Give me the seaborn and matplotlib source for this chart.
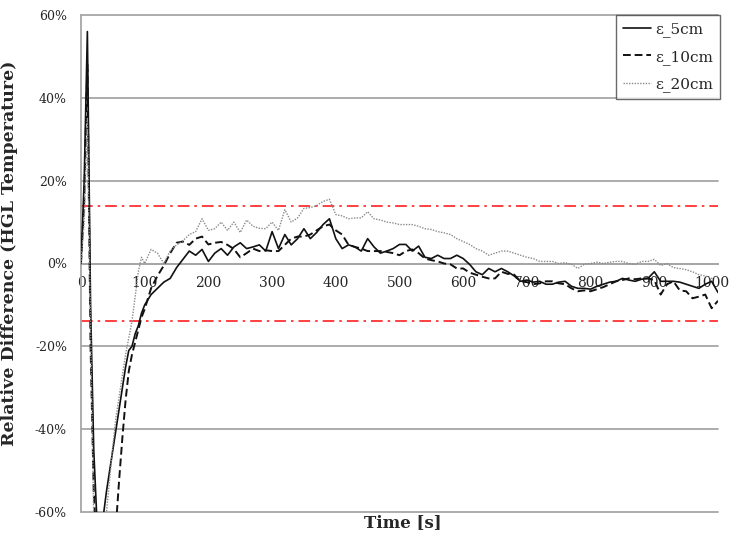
import numpy as np
import pandas as pd
import matplotlib
matplotlib.use("Agg")
import matplotlib.pyplot as plt
import matplotlib.transforms as mtransforms
import seaborn as sns

time_s = [0, 5, 10, 15, 20, 25, 30, 35, 40, 45, 50, 55, 60, 65, 70, 75, 80, 85, 90, 95, 100,
          110, 120, 130, 140, 150, 160, 170, 180, 190, 200, 210, 220, 230, 240, 250, 260, 270, 280, 290,
          300, 310, 320, 330, 340, 350, 360, 370, 380, 390, 400, 410, 420, 430, 440, 450, 460, 470, 480, 490,
          500, 510, 520, 530, 540, 550, 560, 570, 580, 590, 600, 610, 620, 630, 640, 650, 660, 670, 680, 690,
          700, 710, 720, 730, 740, 750, 760, 770, 780, 790, 800, 810, 820, 830, 840, 850, 860, 870, 880, 890,
          900, 910, 920, 930, 940, 950, 960, 970, 980, 990, 1000]

eps_5cm = [0, 20, 56, -10, -45, -62, -63, -61, -55, -50, -45, -40, -35, -30, -25, -21, -20, -17, -15, -12, -10,
           -7.5, -6, -4.5, -3.6, -1, 1, 3, 2, 3.4, 0.5, 2.5, 3.6, 2, 4, 5, 3.6, 4, 4.5, 3,
           7.7, 3.6, 7, 4.5, 6, 8.4, 6, 7.5, 9.4, 10.8, 6, 3.6, 4.5, 4, 3, 6, 4, 2.5, 3, 3.6,
           4.6, 4.6, 3, 4.2, 1.5, 1.2, 2, 1.2, 1.2, 2, 1.2, -0.2, -2, -2.7, -1.2, -2, -1.2, -2, -3, -4.3,
           -4, -4.5, -4.3, -5, -5, -4.5, -4.3, -5.5, -6, -6, -6.2, -5.5, -5, -4.5, -4.3, -3.6, -4, -4.3, -3.8, -3.6,
           -2, -4.3, -4.3, -4.3, -4.5, -5, -5.5, -6, -5, -4.3, -7]

eps_10cm = [0, 15, 48, -20, -55, -70, -75, -75, -75, -72, -68, -63, -52, -42, -33, -26, -22, -19, -16, -13, -11,
            -6, -3, -0.5, 2.5, 5, 5.3, 4.5, 6, 6.5, 4.6, 5, 5.2, 4.5, 3.5, 1.5, 2.5, 3.6, 3, 3.2,
            3, 3, 4.5, 6, 6.5, 6.5, 7, 8, 9, 9.4, 8, 7, 4.5, 4, 3.6, 3, 3, 3, 2.8, 2.5,
            2, 3, 3.4, 2.5, 1.2, 0.8, 0.5, 0, -0.2, -1.2, -1.2, -2.2, -2.7, -3.2, -3.6, -3.6, -2, -2.5, -2.7, -4.3,
            -4.5, -5, -4.8, -4.3, -4.3, -4.8, -5, -6, -6.7, -6.5, -6.7, -6.2, -5.7, -5, -4.3, -4, -3.6, -3.8, -3.6, -3.6,
            -4, -7.5, -5, -4.3, -6.5, -6.7, -8.4, -8, -7.5, -10.8, -9]

eps_20cm = [0, 10, 35, -15, -62, -72, -72, -66, -60, -52, -44, -37, -32, -27, -22, -18, -14, -8, -2, 1.5, 0,
            3.4, 2.5, 0, 3, 4.5, 5.5, 7, 7.7, 10.8, 8, 8.4, 10, 8, 10, 7.5, 10.5, 9, 8.5, 8.4,
            10, 8, 13, 10, 11, 13.3, 13.5, 14, 15, 15.5, 11.8, 11.5, 10.8, 11, 11, 12.5, 10.8, 10.5, 10, 9.8,
            9.4, 9.4, 9.4, 9, 8.4, 8.2, 7.7, 7.4, 7, 6, 5.3, 4.6, 3.6, 3, 2, 2.5, 3, 3, 2.5, 2,
            1.5, 1.2, 0.5, 0.5, 0.5, 0, 0.2, -0.2, -1.2, -0.2, 0, 0.3, 0, 0.3, 0.5, 0.5, 0, -0.2, 0.5, 0.5,
            1, -0.5, 0, -1, -1.2, -1.5, -2, -2.7, -3, -3.6, -3]

series_names = ["ε_5cm", "ε_10cm", "ε_20cm"]
y_ticks = [-60, -40, -20, 0, 20, 40, 60]
x_ticks = [0, 100, 200, 300, 400, 500, 600, 700, 800, 900, 1000]
limit_lines = [14, -14]

df = pd.DataFrame({
    "Time": time_s * 3,
    "Value": eps_5cm + eps_10cm + eps_20cm,
    "Series": [series_names[0]] * len(time_s) + [series_names[1]] * len(time_s) + [series_names[2]] * len(time_s),
})

sns.set_style("white")
plt.rcParams["font.family"] = ["DejaVu Serif", "DejaVu Sans"]

fig = plt.figure(figsize=(7.3, 5.35), dpi=100)
ax = fig.add_axes([81 / 730, 1 - 512 / 535, (718 - 81) / 730, (512 - 15) / 535])

for yv in y_ticks:
    ax.axhline(yv, color="#a6a6a6", lw=1.3, zorder=0, clip_on=False)
for yv in limit_lines:
    ax.axhline(yv, color="#ff2020", lw=1.2, linestyle=(0, (7, 3, 1.5, 3)), zorder=1)

palette = {series_names[0]: "#111111", series_names[1]: "#111111", series_names[2]: "#8a8a8a"}
dashes = {series_names[0]: "", series_names[1]: (4, 2), series_names[2]: (1, 1)}
sizes = {series_names[0]: 1.2, series_names[1]: 1.4, series_names[2]: 1.0}
sns.lineplot(data=df, x="Time", y="Value", hue="Series", style="Series", size="Series",
             palette=palette, dashes=dashes, sizes=sizes, ax=ax, zorder=3, sort=False)

ax.set_xlim(0, 1000)
ax.set_ylim(-60, 60)
ax.set_yticks(y_ticks)
ax.set_yticklabels([f"{v}%" for v in y_ticks], fontsize=9)
ax.set_xticks(x_ticks)
ax.set_xticklabels([str(v) for v in x_ticks], fontsize=9)

for s in ["top", "right"]:
    ax.spines[s].set_visible(False)
ax.spines["left"].set_color("#a6a6a6")
ax.spines["left"].set_linewidth(1.3)
ax.spines["bottom"].set_position(("data", 0))
ax.spines["bottom"].set_color("#a6a6a6")
ax.spines["bottom"].set_linewidth(1.3)
ax.tick_params(axis="x", direction="inout", length=8, width=1.3, color="#a6a6a6", pad=5)
ax.tick_params(axis="y", length=0, pad=10)

ax.set_xlabel("")
ax.set_ylabel("Relative Difference (HGL Temperature)", fontsize=12.5, fontweight="bold")
ax.yaxis.set_label_coords((18 - 81) / 637, 0.52)
fig.text((81 + 718) / 2 / 730 + 0.005, 1 - 523 / 535, "Time [s]", ha="center", va="center",
         fontsize=12, fontweight="bold")

leg = ax.legend(loc="upper right", bbox_to_anchor=(1.003, 1.0), fontsize=11,
                frameon=True, fancybox=False, edgecolor="#444444", handlelength=1.8,
                handletextpad=0.3, borderpad=0.45, labelspacing=0.85, borderaxespad=0)
leg.get_frame().set_linewidth(1.0)

# nudge the last x tick label so it stays inside the figure
last_tick = ax.xaxis.get_major_ticks()[-1]
last_tick.label1.set_horizontalalignment("right")
last_tick.label1.set_transform(last_tick.label1.get_transform()
                               + mtransforms.ScaledTranslation(11 / 100, 0, fig.dpi_scale_trans))

fig.savefig("out.png", dpi=100)
